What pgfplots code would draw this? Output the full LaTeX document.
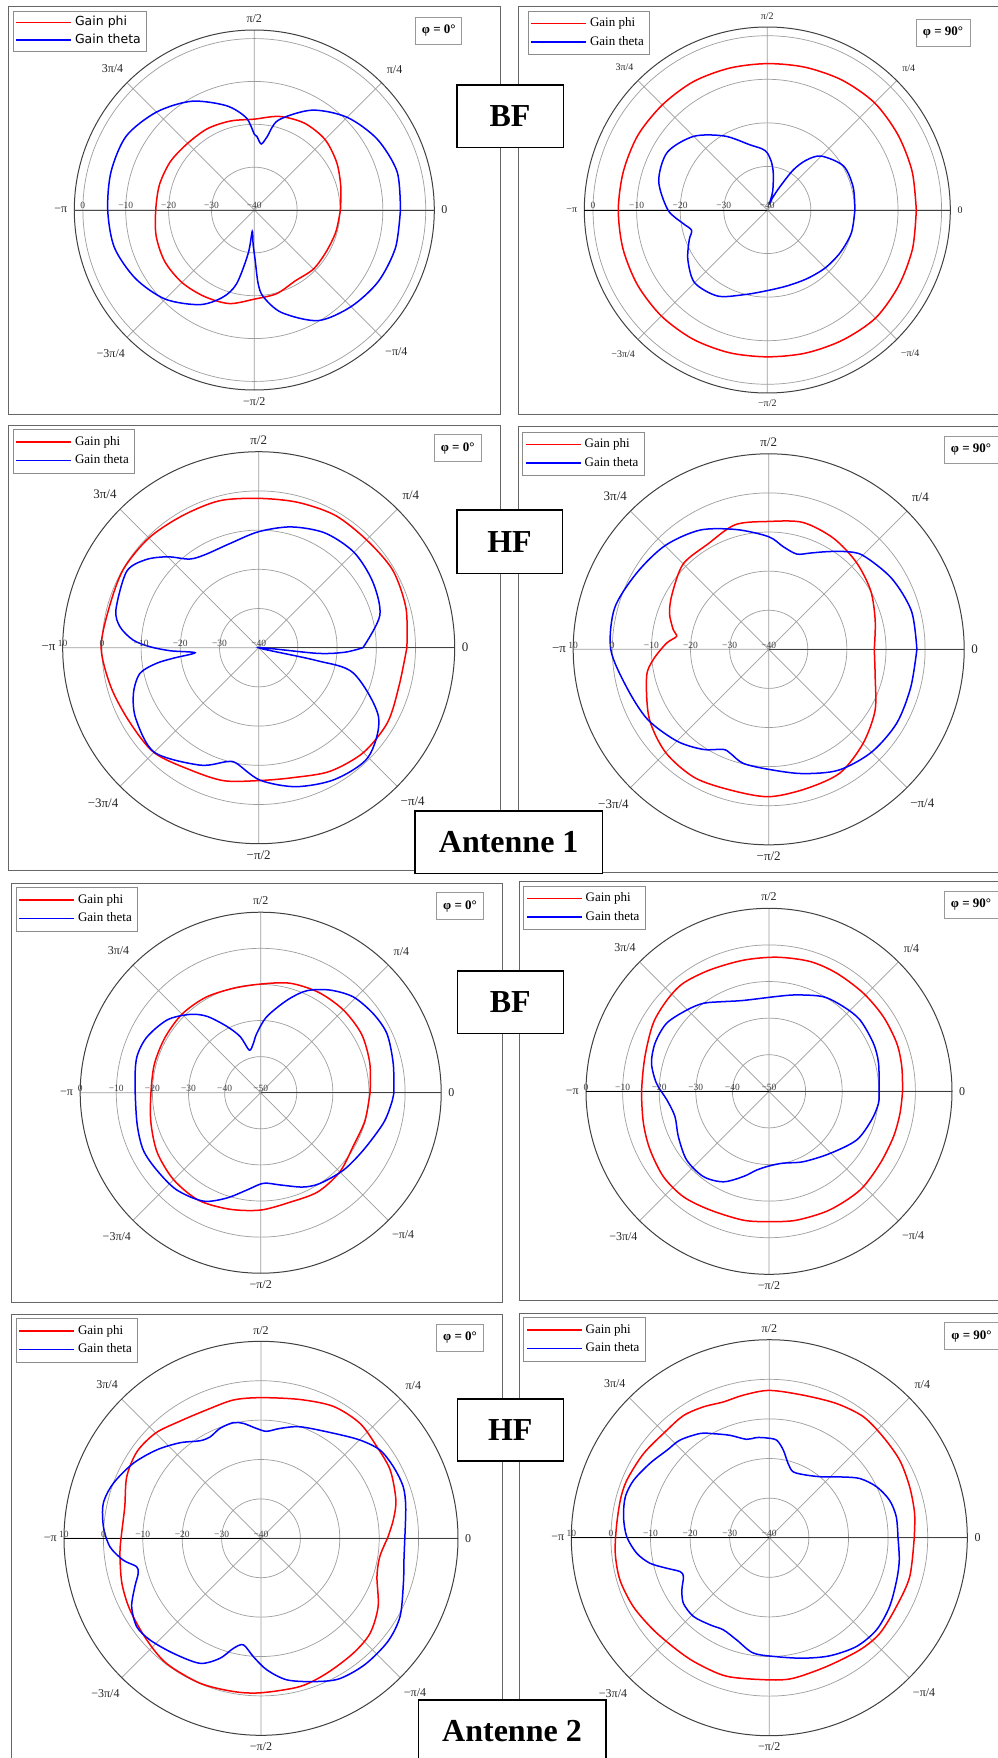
\documentclass[border=0pt]{standalone}
\usepackage{fontspec}
\setmainfont{Liberation Serif}
\newfontfamily\dejavu{DejaVu Sans}
\usepackage{pgfplots}
\usepackage{pgfplotstable}
\pgfplotsset{compat=1.18}
\usepgfplotslibrary{polar}

% ---------------- Antenne 1, BF, phi = 0
\pgfplotstableread{
a g
0 -19.9
15 -19.1
30 -17.8
45 -16.7
60 -16.6
75 -17.4
90 -18.8
105 -18.5
120 -18.1
135 -18.0
150 -17.4
165 -17.1
180 -17.0
195 -16.3
210 -15.9
225 -16.1
240 -16.7
255 -17.4
270 -19.2
285 -19.8
300 -20.9
315 -20.5
330 -20.6
345 -20.3
360 -19.9
}\PAphi
\pgfplotstableread{
a g
0 -5.9
15 -5.5
30 -6.9
45 -9.4
60 -13.1
75 -18.3
80 -22.6
84 -24.5
88 -22.8
90 -22.3
95 -18.4
105 -14.8
120 -10.7
135 -7.7
150 -5.5
165 -5.4
180 -5.8
195 -6.2
210 -8.0
225 -10.6
240 -14.5
250 -18.3
256.5 -22.3
262 -29.8
264.5 -35.0
268 -32.0
271 -28.3
273 -22.8
276 -19.6
285 -15.2
300 -10.2
315 -8.1
330 -6.6
345 -5.9
360 -5.9
}\PAtheta
% ---------------- Antenne 1, BF, phi = 90
\pgfplotstableread{
a g
0 -5.8
15 -5.6
30 -5.4
45 -5.2
60 -5.6
75 -6.1
90 -6.4
105 -6.3
120 -6.0
135 -5.9
150 -5.7
165 -5.8
180 -5.8
195 -5.7
210 -5.6
225 -5.6
240 -5.8
255 -6.1
270 -6.3
285 -6.0
300 -5.5
315 -4.9
330 -5.2
345 -5.5
360 -5.8
}\PBphi
\pgfplotstableread{
a g
0 -19.9
15 -19.6
30 -19.8
45 -22.5
52 -25.5
57 -29.0
61.5 -33.9
67 -37.0
71 -38.5
74 -35.5
80.7 -31.5
85 -29.0
90 -26.9
95 -25.9
105 -24.5
120 -20.4
135 -16.1
150 -13.5
165 -14.2
180 -17.2
189 -20.4
195 -22.0
201 -20.8
212 -18.5
225 -16.4
240 -17.2
255 -19.9
270 -21.5
285 -22.0
300 -21.8
315 -21.2
330 -20.6
345 -20.0
360 -19.9
}\PBtheta
% ---------------- Antenne 1, HF, phi = 0
\pgfplotstableread{
a g
0 -2.2
15 -1.1
30 -0.5
45 -1.1
60 -1.0
75 -1.6
90 -1.9
105 -1.2
120 -1.1
135 -0.4
150 -0.1
165 -0.5
180 0.2
195 -1.0
210 -2.0
225 -2.2
240 -4.2
255 -4.9
270 -6.1
285 -5.7
300 -3.6
315 -2.2
330 -2.0
345 -2.9
360 -2.2
}\PCphi
\pgfplotstableread{
a g
0 -13.4
15 -8.0
30 -6.4
45 -5.6
60 -6.2
75 -8.1
90 -10.4
105 -12.4
120 -12.6
128 -11.3
135 -7.2
142 -3.5
150 -1.1
165 -2.3
171.4 -4.2
176.5 -7.9
179.5 -12.3
182 -17.5
184.5 -23.7
187 -18.1
188.7 -13.6
192.2 -9.0
200 -6.0
210 -3.8
225 -2.3
243.4 -6.5
254.3 -9.8
259 -10.0
270.6 -6.2
285 -3.3
300 -1.2
315 -0.5
330 -4.7
345 -15.0
347.5 -25.0
351 -40.0
354.5 -25.0
357 -18.0
360 -13.4
}\PCtheta
% ---------------- Antenne 1, HF, phi = 90
\pgfplotstableread{
a g
0 -13.0
15 -11.8
30 -9.9
45 -8.4
60 -7.1
75 -6.4
90 -7.3
105 -7.0
120 -8.9
135 -9.1
150 -11.5
160 -13.0
168.5 -15.1
172 -16.2
176.6 -13.8
185 -10.4
192.6 -8.0
210 -4.7
225 -2.7
240 -2.1
255 -2.7
270 -2.3
285 -3.1
300 -3.5
315 -5.9
330 -8.6
345 -11.8
360 -13.0
}\PDphi
\pgfplotstableread{
a g
0 -2.1
15 -2.2
30 -3.7
45 -6.0
52.6 -8.5
60 -11.2
66.7 -13.2
73.6 -14.6
81.9 -13.5
90 -11.2
105 -8.3
120 -4.8
135 -2.5
150 -1.0
165 0.8
180 0.4
195 -2.4
210 -4.2
225 -6.8
236.8 -9.4
245.6 -11.9
250 -11.6
257.5 -10.1
270 -9.3
285 -7.1
300 -4.3
315 -2.8
330 -2.2
345 -2.4
360 -2.1
}\PDtheta
% ---------------- Antenne 2, BF, phi = 0
\pgfplotstableread{
a g
0 -19.7
15 -18.7
30 -17.7
45 -17.6
60 -17.9
75 -18.6
90 -19.9
105 -20.1
120 -19.5
135 -19.2
150 -19.4
165 -19.5
180 -19.6
195 -18.5
210 -16.9
225 -15.9
240 -15.6
255 -16.6
270 -17.5
285 -18.6
300 -18.3
315 -19.0
330 -20.4
345 -20.1
360 -19.7
}\PEphi
\pgfplotstableread{
a g
0 -13.1
12.5 -12.4
25 -11.4
35 -11.9
46 -13.1
56 -15.7
65.7 -19.0
74 -23.3
85.5 -28.9
93.9 -33.6
98.5 -36.2
105 -37.8
110 -33.5
117 -29.4
125 -24.2
132 -20.8
142 -17.2
154 -14.9
164 -14.3
176 -15.1
194 -14.7
206 -13.8
216.6 -14.1
229 -14.4
242 -16.0
252 -19.3
262 -22.8
271.7 -24.9
281.8 -23.9
294 -21.4
303 -20.0
317 -18.6
331 -17.4
346 -15.0
355 -13.7
360 -13.1
}\PEtheta
% ---------------- Antenne 2, BF, phi = 90
\pgfplotstableread{
a g
0 -13.5
10.5 -13.1
20.6 -12.7
33.1 -12.7
46.1 -12.8
60.2 -12.8
72.5 -12.8
86.7 -13.3
101 -13.5
116 -13.1
128.4 -12.3
138 -12.6
149.5 -13.3
164.4 -14.8
180 -15.2
194.3 -14.6
206 -13.8
219 -12.9
231 -12.9
243.6 -13.8
258.7 -14.1
270 -14.4
282 -14.0
297 -13.6
312.7 -13.3
327 -13.8
340 -13.8
350.5 -13.7
360 -13.5
}\PFphi
\pgfplotstableread{
a g
0 -19.9
14.4 -19.1
24.7 -18.6
38.1 -18.4
48.7 -19.2
60.1 -20.2
74 -22.6
85.4 -24.0
105.8 -24.2
117 -22.5
126.7 -20.0
135.4 -18.4
146.4 -16.4
157 -16.2
166.6 -17.0
176 -19.2
184.8 -22.0
195 -23.4
206.6 -22.3
219.8 -20.7
232.4 -20.6
243.2 -22.3
253.3 -25.7
261 -28.2
270 -29.6
281 -30.0
296 -28.6
314.5 -26.2
331 -22.6
344.4 -20.9
353.7 -19.9
360 -19.9
}\PFtheta
% ---------------- Antenne 2, HF, phi = 0
\pgfplotstableread{
a g
0 -7.9
7.9 -6.1
15.9 -4.4
27.9 -2.9
38.4 -2.5
49.3 -1.5
61.2 -1.8
74.3 -3.4
90 -4.3
101.3 -4.2
113 -4.6
125 -3.8
135 -2.2
145 -1.6
155.3 -2.5
166.9 -4.5
178 -4.6
186 -4.0
197.9 -2.9
208.7 -2.1
221.6 -1.2
233 -0.2
247.2 -0.1
260 -0.5
270 -0.8
284.7 -1.1
296 -1.9
308.8 -2.6
319 -3.3
329.8 -5.6
341.7 -9.0
351.2 -9.5
360 -7.9
}\PGphi
\pgfplotstableread{
a g
0 -3.5
12.3 -2.4
20 -1.6
28.4 -1.8
36.6 -2.4
44.8 -4.6
55.4 -7.6
70.7 -10.0
80.2 -11.7
87 -12.8
92.3 -12.1
98.7 -10.5
103.5 -9.8
110.4 -10.2
116.6 -11.2
122 -10.8
130.3 -8.2
139.7 -5.3
149.6 -2.4
159.6 0.0
167.5 1.0
175.8 0.1
183.2 -1.6
189 -4.6
192.8 -7.6
195.9 -7.6
201 -5.7
207.8 -2.9
215.4 -1.3
222.5 -1.8
232.7 -3.3
244 -4.7
251.1 -7.8
255.9 -11.2
260.6 -12.6
266.3 -9.9
272.5 -6.6
280.3 -3.5
290 -1.3
299 0.8
309.5 1.5
320.9 1.5
330.6 0.5
342.5 -2.1
351.4 -3.3
360 -3.5
}\PGtheta
% ---------------- Antenne 2, HF, phi = 90
\pgfplotstableread{
a g
0 -3.4
9.5 -2.8
19.9 -2.3
30.7 -1.7
41.5 -1.6
52.2 -1.3
63.4 -2.1
76.6 -3.0
90 -2.8
100.3 -3.4
108.7 -3.8
116.7 -3.0
125 -2.3
133.6 -2.5
146.2 -1.8
158 -1.2
165.8 -1.2
175.9 -1.3
185.8 -0.9
195.8 -0.8
206.9 -1.5
218.5 -2.6
230.5 -3.3
240 -3.4
253 -3.4
270 -4.1
279.7 -4.0
294 -4.4
308.9 -3.6
319.2 -3.1
331.5 -3.5
344.5 -3.2
360 -3.4
}\PHphi
\pgfplotstableread{
a g
0 -7.5
9.4 -7.5
17.3 -8.2
25.4 -10.0
33.2 -12.7
40.8 -16.5
48.5 -19.5
59.2 -21.6
70 -22.3
75.7 -20.7
80.9 -17.6
85.7 -15.3
91.5 -14.8
97.2 -14.5
103 -14.5
111 -12.3
118.2 -10.2
123.6 -8.4
132.4 -6.6
139.5 -6.0
148 -4.5
157 -2.8
164.1 -2.2
171.8 -2.8
179.6 -4.0
186.7 -6.3
192.1 -9.2
196.6 -13.0
200.8 -15.9
204.4 -16.2
210.8 -14.3
217.4 -12.7
226.1 -12.4
235.8 -13.4
243.5 -14.0
252.3 -12.9
262.1 -10.6
273.5 -9.9
285.7 -8.4
297.1 -6.5
308.7 -4.8
319.3 -4.3
330.2 -5.0
341.6 -6.1
350.3 -6.7
360 -7.5
}\PHtheta

\pgfplotsset{
  panel/.style={
    scale only axis, anchor=center, clip=false,
    xmin=0, xmax=360, ymin=0,
    xtick={0,45,90,135,180,225,270,315},
    xticklabels={0,π/4,π/2,3π/4,−π,−3π/4,−π/2,−π/4},
    ytick={10,20,30,40},
    yticklabel=\empty,
    grid=major,
    major grid style={draw=black!38, line width=0.7pt},
    axis line style={draw=black!75, line width=1pt},
    major tick length=0pt,
    xticklabel style={inner sep=7pt, text=black!85},
    legend cell align=left,
    legend image code/.code={\draw[##1] (0pt,0pt) -- (55pt,0pt);},
    legend style={draw=black!45, line width=0.7pt, fill=white, anchor=north west,
      inner xsep=2.5pt, inner ysep=4.5pt, row sep=2.5pt,
      nodes={inner xsep=3pt, inner ysep=2pt, text height=9pt, text depth=3pt},
      font=\fontsize{13}{15}\selectfont},
  },
  phi/.style={draw=red, line width=1.5pt, smooth, tension=0.5, mark=none},
  theta/.style={draw=blue, line width=1.5pt, smooth, tension=0.5, mark=none},
}
\newcommand{\rlab}[2]{\node[font=\fontsize{9.5}{10}\selectfont, anchor=south, inner sep=1pt, text=black!75] at (axis cs:180,#1) {#2};}
\newcommand{\phibox}[4]{\node[draw=black!40, line width=0.8pt, fill=white, minimum width=#3pt, minimum height=27pt, inner sep=0pt, font=\bfseries\fontsize{13}{15}\selectfont] at (#1pt,-#2pt) {#4};}
\newcommand{\bigbox}[5]{\node[draw=black, line width=1.6pt, fill=white, minimum width=#3pt, minimum height=#4pt, inner sep=0pt, font=\bfseries\fontsize{32}{36}\selectfont] at (#1pt,-#2pt) {#5};}

\begin{document}
\begin{tikzpicture}
\useasboundingbox (0pt,0pt) rectangle (998pt,-1758pt);
\fill[white] (0pt,0pt) rectangle (998pt,-1758pt);
% panel frames
\begin{scope}[draw=black!60, line width=0.8pt]
\draw (8pt,-6pt) rectangle (500.7pt,-414pt);
\draw (518.3pt,-6pt) rectangle (1010pt,-414pt);
\draw (8.3pt,-425pt) rectangle (500.7pt,-870pt);
\draw (518.3pt,-426.7pt) rectangle (1010pt,-872.7pt);
\draw (11.7pt,-883.3pt) rectangle (502.7pt,-1302.3pt);
\draw (519.3pt,-881.7pt) rectangle (1010pt,-1300.7pt);
\draw (11.7pt,-1314.3pt) rectangle (502.7pt,-1770pt);
\draw (519.3pt,-1313.3pt) rectangle (1010pt,-1770pt);
\end{scope}

% ===== Panel A
\begin{polaraxis}[panel, at={(254.3pt,-210pt)}, width=360pt, height=360pt, ymax=42,
  xticklabel style={font=\fontsize{12}{14}\selectfont},
  legend style={at={(axis description cs:-0.1711,1.0536)}, font=\dejavu\fontsize{12.5}{14}\selectfont, inner ysep=3.5pt, row sep=1.5pt}]
\draw[black!70, line width=0.8pt] (axis cs:180,42) -- (axis cs:0,0);
\addplot[phi] table[x=a, y expr=\thisrow{g}+40] {\PAphi};
\addlegendentry{Gain phi}
\addplot[theta] table[x=a, y expr=\thisrow{g}+40] {\PAtheta};
\addlegendentry{Gain theta}
\rlab{40}{0}\rlab{30}{−10}\rlab{20}{−20}\rlab{10}{−30}\rlab{0}{−40}
\end{polaraxis}

% ===== Panel B
\begin{polaraxis}[panel, at={(767.3pt,-210pt)}, width=366pt, height=366pt, ymax=42,
  xticklabel style={font=\fontsize{10}{12}\selectfont},
  legend style={at={(axis description cs:-0.1546,1.0445)}}]
\draw[black, line width=0.9pt] (axis cs:180,42) -- (axis cs:0,0);
\addplot[phi] table[x=a, y expr=\thisrow{g}+40] {\PBphi};
\addlegendentry{Gain phi}
\addplot[theta] table[x=a, y expr=\thisrow{g}+40] {\PBtheta};
\addlegendentry{Gain theta}
\rlab{40}{0}\rlab{30}{−10}\rlab{20}{−20}\rlab{10}{−30}\rlab{0}{−40}
\end{polaraxis}

% ===== Panel C
\begin{polaraxis}[panel, at={(258.7pt,-647.7pt)}, width=392pt, height=392pt, ymax=50,
  xticklabel style={font=\fontsize{13}{15}\selectfont},
  legend style={at={(axis description cs:-0.1276,1.0571)}}]
\addplot[phi] table[x=a, y expr=\thisrow{g}+40] {\PCphi};
\addlegendentry{Gain phi}
\addplot[theta] table[x=a, y expr=\thisrow{g}+40] {\PCtheta};
\addlegendentry{Gain theta}
\rlab{50}{10}\rlab{40}{0}\rlab{30}{−10}\rlab{20}{−20}\rlab{10}{−30}\rlab{0}{−40}
\end{polaraxis}

% ===== Panel D
\begin{polaraxis}[panel, at={(768.7pt,-649.3pt)}, width=391pt, height=391pt, ymax=50,
  xticklabel style={font=\fontsize{13}{15}\selectfont},
  legend style={at={(axis description cs:-0.1302,1.0565)}}]
\addplot[phi] table[x=a, y expr=\thisrow{g}+40] {\PDphi};
\addlegendentry{Gain phi}
\addplot[theta] table[x=a, y expr=\thisrow{g}+40] {\PDtheta};
\addlegendentry{Gain theta}
\rlab{50}{10}\rlab{40}{0}\rlab{30}{−10}\rlab{20}{−20}\rlab{10}{−30}\rlab{0}{−40}
\end{polaraxis}

% ===== Panel E
\begin{polaraxis}[panel, at={(260.7pt,-1092.7pt)}, width=361pt, height=361pt, ymax=50,
  xticklabel style={font=\fontsize{12}{14}\selectfont},
  legend style={at={(axis description cs:-0.1787,1.0690)}}]
\addplot[phi] table[x=a, y expr=\thisrow{g}+50] {\PEphi};
\addlegendentry{Gain phi}
\addplot[theta] table[x=a, y expr=\thisrow{g}+50] {\PEtheta};
\addlegendentry{Gain theta}
\rlab{50}{0}\rlab{40}{−10}\rlab{30}{−20}\rlab{20}{−30}\rlab{10}{−40}\rlab{0}{−50}
\end{polaraxis}

% ===== Panel F
\begin{polaraxis}[panel, at={(769pt,-1091.3pt)}, width=366pt, height=366pt, ymax=50,
  xticklabel style={font=\fontsize{12}{14}\selectfont},
  legend style={at={(axis description cs:-0.1713,1.0617)}}]
\draw[black, line width=0.9pt] (axis cs:180,50) -- (axis cs:0,0);
\addplot[phi] table[x=a, y expr=\thisrow{g}+50] {\PFphi};
\addlegendentry{Gain phi}
\addplot[theta] table[x=a, y expr=\thisrow{g}+50] {\PFtheta};
\addlegendentry{Gain theta}
\rlab{50}{0}\rlab{40}{−10}\rlab{30}{−20}\rlab{20}{−30}\rlab{10}{−40}\rlab{0}{−50}
\end{polaraxis}

% ===== Panel G
\begin{polaraxis}[panel, at={(261pt,-1538.3pt)}, width=394pt, height=394pt, ymax=50,
  xticklabel style={font=\fontsize{12}{14}\selectfont},
  legend style={at={(axis description cs:-0.1226,1.0584)}}]
\draw[black, line width=0.9pt] (axis cs:180,50) -- (axis cs:0,0);
\addplot[phi] table[x=a, y expr=\thisrow{g}+40] {\PGphi};
\addlegendentry{Gain phi}
\addplot[theta] table[x=a, y expr=\thisrow{g}+40] {\PGtheta};
\addlegendentry{Gain theta}
\rlab{50}{10}\rlab{40}{0}\rlab{30}{−10}\rlab{20}{−20}\rlab{10}{−30}\rlab{0}{−40}
\end{polaraxis}

% ===== Panel H
\begin{polaraxis}[panel, at={(769.3pt,-1537.7pt)}, width=396pt, height=396pt, ymax=50,
  xticklabel style={font=\fontsize{12}{14}\selectfont},
  legend style={at={(axis description cs:-0.1212,1.0566)}}]
\draw[black, line width=0.9pt] (axis cs:180,50) -- (axis cs:0,0);
\addplot[phi] table[x=a, y expr=\thisrow{g}+40] {\PHphi};
\addlegendentry{Gain phi}
\addplot[theta] table[x=a, y expr=\thisrow{g}+40] {\PHtheta};
\addlegendentry{Gain theta}
\rlab{50}{10}\rlab{40}{0}\rlab{30}{−10}\rlab{20}{−20}\rlab{10}{−30}\rlab{0}{−40}
\end{polaraxis}

% phi boxes
\phibox{438.8}{30.7}{46}{φ = 0°}
\phibox{943}{32.5}{54}{φ = 90°}
\phibox{457.7}{448.2}{47}{φ = 0°}
\phibox{971}{450}{54}{φ = 90°}
\phibox{460}{906.3}{47}{φ = 0°}
\phibox{971}{904.5}{54}{φ = 90°}
\phibox{460}{1337.5}{47}{φ = 0°}
\phibox{971.5}{1336.3}{54}{φ = 90°}

% big labels
\bigbox{510}{116.2}{106.6}{62.3}{BF}
\bigbox{509.5}{541.7}{105.6}{63.3}{HF}
\bigbox{508.7}{842.2}{187.3}{62.3}{Antenne 1}
\bigbox{510.3}{1002.2}{106}{62.3}{BF}
\bigbox{510.3}{1430}{106}{62}{HF}
\bigbox{512}{1731}{187.4}{62}{Antenne 2}
\end{tikzpicture}
\end{document}
